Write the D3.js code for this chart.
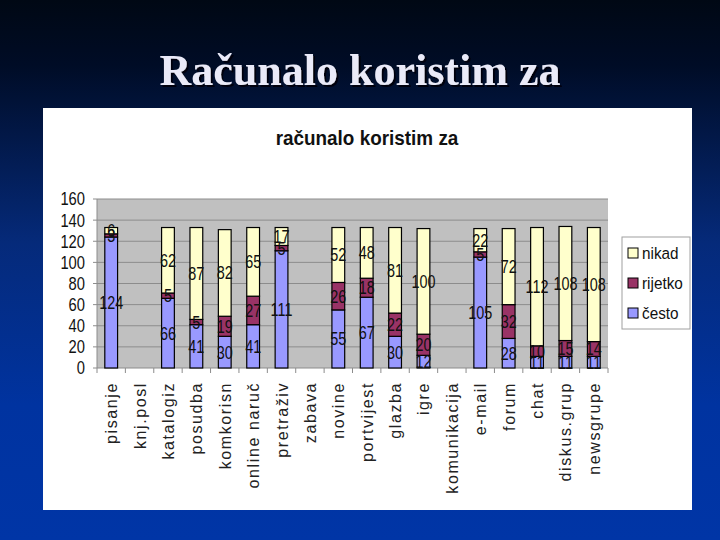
<!DOCTYPE html>
<html>
<head>
<meta charset="utf-8">
<script src="https://cdn.jsdelivr.net/npm/d3@7"></script>
<style>
  html, body { margin: 0; padding: 0; background: #00236e; }
  svg { display: block; }
</style>
</head>
<body>
<svg id="slide" width="720" height="540"></svg>
<script>
var categories = ["pisanje", "knj.posl", "katalogiz", "posudba", "komkorisn", "online naruč",
  "pretraživ", "zabava", "novine", "portvijest", "glazba", "igre", "komunikacija",
  "e-mail", "forum", "chat", "diskus.grup", "newsgrupe"];

// null = no answers for that category
var cesto   = [124, null, 66, 41, 30, 41, 111, null, 55, 67, 30, 12, null, 105, 28, 11, 11, 11];
var rijetko = [3,   null, 5,  5,  19, 27, 5,   null, 26, 18, 22, 20, null, 5,   32, 10, 15, 14];
var nikad   = [6,   null, 62, 87, 82, 65, 17,  null, 52, 48, 81, 100, null, 22, 72, 112, 108, 108];

var seriesNames = ["često", "rijetko", "nikad"];
var seriesColors = ["#9999ff", "#993366", "#ffffcc"];
var yTicks = [0, 20, 40, 60, 80, 100, 120, 140, 160];

(function() {
  var svg = d3.select("#slide");

  var plot = { left: 97, right: 608, top: 199, bottom: 368 };
  var font = "'Liberation Sans', Arial, sans-serif";

  // slide background
  var defs = svg.append("defs");
  var grad = defs.append("linearGradient")
      .attr("id", "bg")
      .attr("x1", 0).attr("y1", 0).attr("x2", 0).attr("y2", 1);
  grad.append("stop").attr("offset", "0").attr("stop-color", "#000814");
  grad.append("stop").attr("offset", "0.12").attr("stop-color", "#000c26");
  grad.append("stop").attr("offset", "0.45").attr("stop-color", "#052a7a");
  grad.append("stop").attr("offset", "0.75").attr("stop-color", "#0033a0");
  grad.append("stop").attr("offset", "1").attr("stop-color", "#0035a6");

  var shadow = defs.append("filter")
      .attr("id", "shadow")
      .attr("x", "-10%").attr("y", "-20%")
      .attr("width", "120%").attr("height", "150%");
  shadow.append("feDropShadow")
      .attr("dx", 2).attr("dy", 2)
      .attr("stdDeviation", 0.6)
      .attr("flood-color", "#000010")
      .attr("flood-opacity", 1);

  svg.append("rect")
      .attr("width", 720).attr("height", 540)
      .attr("fill", "url(#bg)");

  // slide title
  svg.append("text")
      .attr("x", 360).attr("y", 85)
      .attr("text-anchor", "middle")
      .attr("font-family", "'Liberation Serif', 'Times New Roman', serif")
      .attr("font-weight", "bold")
      .attr("font-size", "44px")
      .attr("fill", "#eaeaf8")
      .attr("filter", "url(#shadow)")
      .text("Računalo koristim za");

  // white chart panel
  svg.append("rect")
      .attr("x", 43).attr("y", 108)
      .attr("width", 649).attr("height", 402)
      .attr("fill", "#ffffff");

  svg.append("text")
      .attr("transform", "translate(367,145) scale(0.9,1)")
      .attr("text-anchor", "middle")
      .attr("font-family", font)
      .attr("font-weight", "bold")
      .attr("font-size", "21px")
      .attr("fill", "#111")
      .text("računalo koristim za");

  var x = d3.scaleBand()
      .domain(categories)
      .range([plot.left, plot.right])
      .paddingInner(0.55)
      .paddingOuter(0.275);

  var xTick = d3.scalePoint()
      .domain(d3.range(categories.length + 1))
      .range([plot.left, plot.right]);

  var y = d3.scaleLinear()
      .domain([0, 160])
      .range([plot.bottom, plot.top]);

  var g = svg.append("g");

  g.append("rect")
      .attr("x", plot.left).attr("y", plot.top)
      .attr("width", plot.right - plot.left)
      .attr("height", plot.bottom - plot.top)
      .attr("fill", "#c0c0c0");

  g.append("g")
    .selectAll("line")
    .data(yTicks.slice(1))
    .join("line")
      .attr("x1", plot.left).attr("x2", plot.right)
      .attr("y1", d => y(d)).attr("y2", d => y(d))
      .attr("stroke", "#8c8c8c")
      .attr("stroke-width", 1);

  // y axis
  g.append("line")
      .attr("x1", plot.left).attr("x2", plot.left)
      .attr("y1", plot.top).attr("y2", plot.bottom)
      .attr("stroke", "#8c8c8c");
  g.append("g")
    .selectAll("line")
    .data(yTicks)
    .join("line")
      .attr("x1", plot.left - 4).attr("x2", plot.left)
      .attr("y1", d => y(d)).attr("y2", d => y(d))
      .attr("stroke", "#8c8c8c");
  g.append("g")
    .selectAll("text")
    .data(yTicks)
    .join("text")
      .attr("transform", d => `translate(85,${y(d)}) scale(0.82,1)`)
      .attr("dy", "0.36em")
      .attr("text-anchor", "end")
      .attr("font-family", font)
      .attr("font-size", "18px")
      .attr("fill", "#111")
      .text(d => d);

  // x axis
  g.append("line")
      .attr("x1", plot.left).attr("x2", plot.right)
      .attr("y1", plot.bottom).attr("y2", plot.bottom)
      .attr("stroke", "#8c8c8c");
  g.append("g")
    .selectAll("line")
    .data(xTick.domain())
    .join("line")
      .attr("x1", d => xTick(d)).attr("x2", d => xTick(d))
      .attr("y1", plot.bottom).attr("y2", plot.bottom + 5)
      .attr("stroke", "#8c8c8c");
  g.append("g")
    .selectAll("text")
    .data(categories)
    .join("text")
      .attr("transform", d => `translate(${x(d) + x.bandwidth() / 2 + 6},382) rotate(-90)`)
      .attr("text-anchor", "end")
      .attr("font-family", font)
      .attr("font-size", "16px")
      .attr("letter-spacing", "1.6px")
      .attr("fill", "#222")
      .text(d => d);

  // stacked bars
  var rows = categories.map((c, i) => ({ cat: c, values: [cesto[i], rijetko[i], nikad[i]] }))
      .filter(d => d.values[0] != null);

  var segments = [];
  rows.forEach(function(r) {
    var base = 0;
    r.values.forEach(function(v, k) {
      segments.push({ cat: r.cat, k: k, v: v, y0: base, y1: base + v });
      base += v;
    });
  });

  g.append("g")
    .selectAll("rect")
    .data(segments)
    .join("rect")
      .attr("x", d => x(d.cat))
      .attr("width", x.bandwidth())
      .attr("y", d => y(d.y1))
      .attr("height", d => y(d.y0) - y(d.y1))
      .attr("fill", d => seriesColors[d.k])
      .attr("stroke", "#000")
      .attr("stroke-width", 1.2);

  g.append("g")
    .selectAll("text")
    .data(segments)
    .join("text")
      .attr("transform", d => `translate(${x(d.cat) + x.bandwidth() / 2},${y((d.y0 + d.y1) / 2)}) scale(0.8,1)`)
      .attr("dy", "0.36em")
      .attr("text-anchor", "middle")
      .attr("font-family", font)
      .attr("font-size", "18px")
      .attr("fill", "#111")
      .text(d => d.v);

  // legend
  var legend = svg.append("g");
  legend.append("rect")
      .attr("x", 622).attr("y", 237)
      .attr("width", 68).attr("height", 92)
      .attr("fill", "#fff")
      .attr("stroke", "#a0a0a0");

  var legendOrder = [2, 1, 0];
  legend.selectAll("g")
    .data(legendOrder)
    .join("g")
      .attr("transform", (d, i) => `translate(628,${253 + i * 30})`)
      .call(s => s.append("rect")
          .attr("x", 0).attr("y", -5)
          .attr("width", 10).attr("height", 10)
          .attr("fill", d => seriesColors[d])
          .attr("stroke", "#000"))
      .call(s => s.append("text")
          .attr("transform", "translate(14,0) scale(0.9,1)")
          .attr("dy", "0.36em")
          .attr("font-family", font)
          .attr("font-size", "17px")
          .attr("fill", "#111")
          .text(d => seriesNames[d]));
})();
</script>
</body>
</html>
